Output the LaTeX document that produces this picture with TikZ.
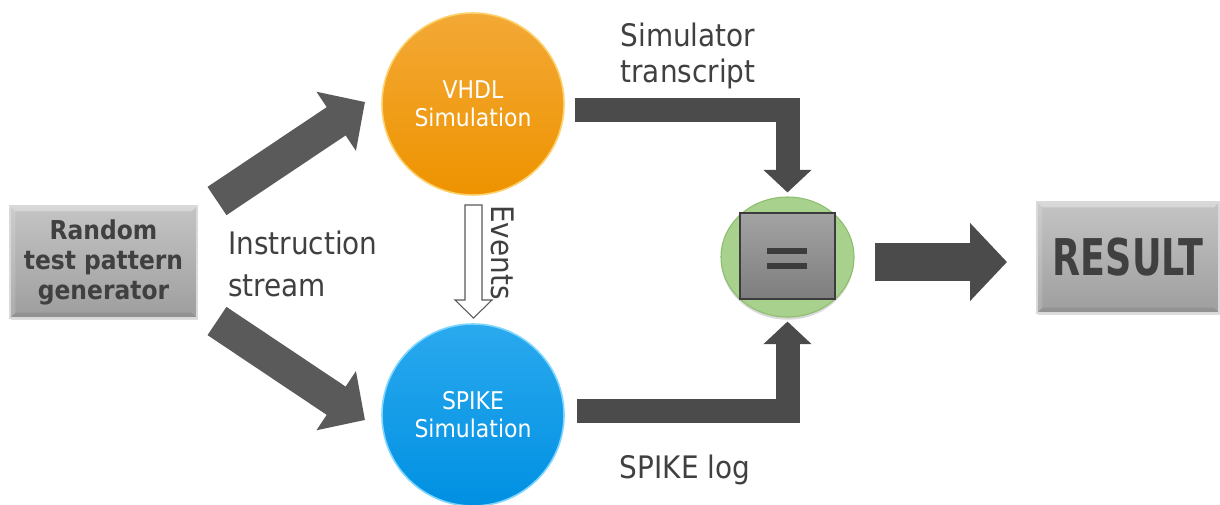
\documentclass[tikz,border=0pt]{standalone}
\usepackage{fontspec}
\setmainfont{DejaVu Sans Condensed}
\usepackage{graphicx}
\usetikzlibrary{arrows.meta,shadows,shapes.geometric}
\definecolor{arrowdark}{HTML}{4B4B4B}
\definecolor{arrowdiag}{HTML}{5A5A5A}
\definecolor{txt}{HTML}{404040}
\definecolor{boxtop}{HTML}{C4C4C4}
\definecolor{boxbot}{HTML}{9E9E9E}
\definecolor{boxedge}{HTML}{D9D9D9}
\definecolor{orangetop}{HTML}{F3A936}
\definecolor{orangebot}{HTML}{EE9300}
\definecolor{orangerim}{HTML}{FCD06A}
\definecolor{bluetop}{HTML}{2AA9EE}
\definecolor{bluebot}{HTML}{0090E2}
\definecolor{bluerim}{HTML}{7ED6FF}
\definecolor{eqgreen}{HTML}{A9D18E}
\definecolor{eqgreenedge}{HTML}{8DBE6C}
\definecolor{sqtop}{HTML}{A3A3A3}
\definecolor{sqbot}{HTML}{7E7E7E}
\definecolor{sqedge}{HTML}{3C3C3C}
\tikzset{
  greybox/.style={rectangle, draw=boxedge, line width=1.2pt, top color=boxtop, bottom color=boxbot,
    inner sep=0pt, text=txt, align=center, drop shadow={opacity=0.25, shadow xshift=1pt, shadow yshift=-1.5pt},
    path picture={
      \fill[white, opacity=0.35] (path picture bounding box.north west) -- (path picture bounding box.north east)
        -- ([xshift=-4pt,yshift=-4pt]path picture bounding box.north east) -- ([xshift=4pt,yshift=-4pt]path picture bounding box.north west) -- cycle;
      \fill[black, opacity=0.08] (path picture bounding box.south west) -- (path picture bounding box.south east)
        -- ([xshift=-4pt,yshift=4pt]path picture bounding box.south east) -- ([xshift=4pt,yshift=4pt]path picture bounding box.south west) -- cycle;
      \fill[white, opacity=0.15] (path picture bounding box.north west) -- (path picture bounding box.south west)
        -- ([xshift=4pt,yshift=4pt]path picture bounding box.south west) -- ([xshift=4pt,yshift=-4pt]path picture bounding box.north west) -- cycle;
    }},
  lbl/.style={text=txt, inner sep=0pt, font=\fontsize{23.25pt}{30pt}\selectfont},
  ball/.style={circle, minimum size=136.5pt, inner sep=0pt, text=white, align=center,
    line width=1.2pt, font=\fontsize{18.3pt}{21pt}\selectfont},
  elbow/.style={draw=arrowdark, line width=18pt, line join=miter,
    -{Triangle[width=35.25pt, length=17pt]}},
  diag/.style={draw=arrowdiag, line width=25.5pt,
    -{Triangle[width=51.75pt, length=26pt]}},
  bigright/.style={draw=arrowdark, line width=28.5pt,
    -{Triangle[width=57pt, length=27.75pt]}},
  hollow/.style={draw=arrowdiag, line width=0.8pt, fill=white}
}
\begin{document}
\begin{tikzpicture}[x=0.75pt, y=-0.75pt]
\useasboundingbox (0,0) rectangle (1220,504);
\fill[white] (0,0) rectangle (1220,504);

% nodes
\node[greybox, minimum width=140.25pt, minimum height=84pt,
  font=\bfseries\fontsize{19.5pt}{22.5pt}\selectfont] (gen) at (103.5,262) {Random\\test pattern\\generator};
\node[ball, draw=orangerim, top color=orangetop, bottom color=orangebot] (vhdl) at (473,104) {VHDL\\Simulation};
\node[ball, draw=bluerim, top color=bluetop, bottom color=bluebot] (spike) at (473,415) {SPIKE\\Simulation};
\node[ellipse, draw=eqgreenedge, fill=eqgreen, line width=0.8pt, minimum width=99.75pt, minimum height=90pt,
  inner sep=0pt, drop shadow={opacity=0.3, shadow xshift=0pt, shadow yshift=-2pt}] (eq) at (787.5,257) {};
\node[rectangle, draw=sqedge, line width=0.8pt, top color=sqtop, bottom color=sqbot,
  minimum width=71.25pt, minimum height=64.5pt, inner sep=0pt] (sq) at (787.5,256) {};
\fill[sqedge] (767,248) rectangle (807,254);
\fill[sqedge] (767,263) rectangle (807,269);
\node[greybox, minimum width=136.5pt, minimum height=83.25pt,
  font=\bfseries\fontsize{38pt}{40pt}\selectfont] (res) at (1128,257.5) {\scalebox{0.8}[1]{RESULT}};

% labels
\node[lbl, anchor=west, align=left, font=\fontsize{23.25pt}{31.5pt}\selectfont] (instr) at (228,264) {Instruction\\stream};
\node[lbl, align=center, font=\fontsize{23.25pt}{27pt}\selectfont] (simtr) at (688,56) {Simulator\\transcript};
\node[lbl, anchor=base] (spklog) at (685,478) {SPIKE log};
\node[lbl, rotate=-90] (events) at (503,252.5) {Events};

% connectors
\coordinate (d1s) at (217,201);
\coordinate (d1e) at (365,102);
\coordinate (d2s) at (217,321);
\coordinate (d2e) at (365,420);
\draw[diag] (d1s) -- (d1e);
\draw[diag] (d2s) -- (d2e);

\coordinate (e1s) at (575,110);
\coordinate (e2s) at (577,411);
\draw[elbow, shorten >=3pt] (e1s) -| (eq.north);
\draw[elbow, shorten >=3pt] (e2s) -| (eq.south);

\coordinate (r1s) at (875,262);
\coordinate (r1e) at (1007,262);
\draw[bigright] (r1s) -- (r1e);

% events hollow arrow
\draw[hollow] (465,205) -- (482,205) -- (482,300) -- (492,300) -- (473.5,318) -- (455,300) -- (465,300) -- cycle;
\end{tikzpicture}
\end{document}
